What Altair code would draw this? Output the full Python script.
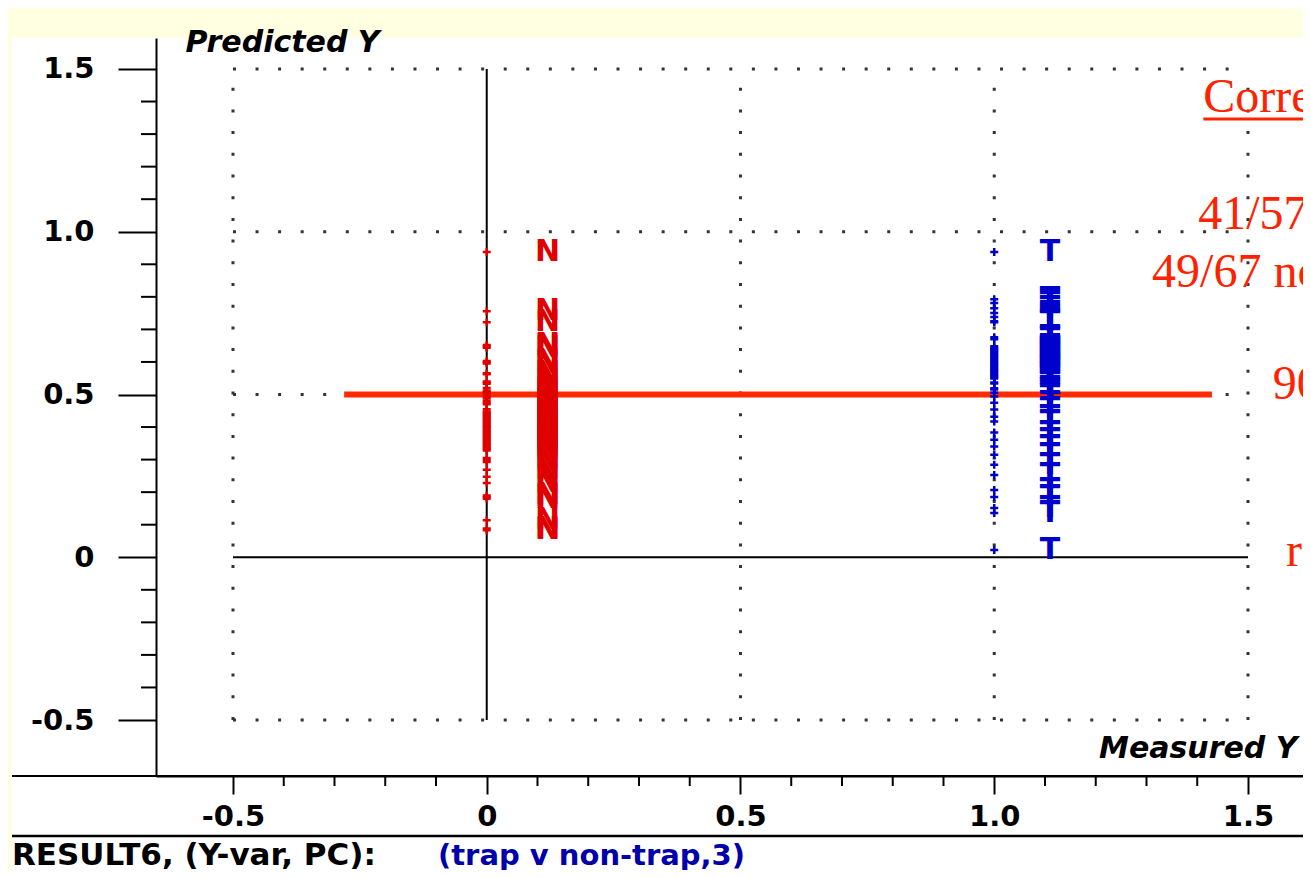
import altair as alt
import pandas as pd

# ---------------- data ----------------
class_names = ["non-trap", "trap"]
measured_values = [0.0, 1.0]
letter_x = [0.12, 1.11]
letters = ["N", "T"]
class_colors = ["#E00000", "#0000CC"]

nontrap_pred = [
    0.938, 0.756, 0.722, 0.652, 0.648, 0.644, 0.603, 0.599, 0.595, 0.565,
    0.562, 0.540, 0.537, 0.533, 0.520, 0.512, 0.508, 0.503,
    0.494, 0.488, 0.480, 0.475, 0.470, 0.455, 0.448, 0.444, 0.440, 0.436,
    0.432, 0.428, 0.424, 0.420, 0.416, 0.412, 0.408, 0.404, 0.400, 0.396,
    0.392, 0.388, 0.384, 0.380, 0.376, 0.372, 0.368, 0.364, 0.360, 0.356,
    0.352, 0.348, 0.344, 0.340, 0.336, 0.332, 0.328, 0.305, 0.299, 0.293,
    0.269, 0.247, 0.228, 0.190, 0.185, 0.180, 0.114, 0.088, 0.083,
]
trap_pred = [
    0.938, 0.793, 0.781, 0.765, 0.750, 0.738, 0.725, 0.722, 0.676, 0.670,
    0.648, 0.644, 0.640, 0.636, 0.632, 0.628, 0.624, 0.620, 0.616, 0.612,
    0.608, 0.604, 0.600, 0.596, 0.592, 0.588, 0.584, 0.580, 0.576, 0.572,
    0.568, 0.564, 0.560, 0.556, 0.552, 0.549, 0.537, 0.534, 0.519, 0.515,
    0.505,
    0.494, 0.475, 0.454, 0.432, 0.417, 0.383, 0.361, 0.340, 0.315, 0.284,
    0.253, 0.207, 0.185, 0.151, 0.136, 0.022,
]

threshold = 0.5
threshold_x = [-0.281, 1.429]

major_ticks = [-0.5, 0.0, 0.5, 1.0, 1.5]
minor_ticks = [-0.4, -0.3, -0.2, -0.1, 0.1, 0.2, 0.3, 0.4,
               0.6, 0.7, 0.8, 0.9, 1.1, 1.2, 1.3, 1.4]
grid_lines = [-0.5, 0.5, 1.0, 1.5]
data_range = [-0.5, 1.5]

ann_text = ["Corre", "41/57", "49/67 no", "90", "ra"]
ann_x = [1.412, 1.402, 1.311, 1.549, 1.575]
ann_y = [1.368, 1.008, 0.830, 0.487, -0.027]
underline_y = 1.346
underline_x = [1.412, 1.75]

footer_words = ["RESULT6, (Y-var, PC):", "(trap v non-trap,3)"]
footer_colors = ["black", "#0000AA"]
footer_px = [-144, 282]
footer_sizes = [31, 29]

# ---------------- tables ----------------
rows = []
for i, preds in enumerate([nontrap_pred, trap_pred]):
    for p in preds:
        rows.append({"cls": class_names[i], "measured": measured_values[i],
                     "lx": letter_x[i], "letter": letters[i], "pred": p})
pts = pd.DataFrame(rows)

W, H = 1147, 738
XS = alt.Scale(domain=[-0.6517, 1.6084], nice=False, zero=False)
YS = alt.Scale(domain=[-0.6720, 1.5952], nice=False, zero=False)
CS = alt.Scale(domain=class_names, range=class_colors)

label_expr = ("(datum.value < 0 ? '-' : '') + (datum.value == 0 ? '0' : "
              "format(abs(datum.value), '.1f'))")
FONT = "DejaVu Sans"

xaxis = alt.Axis(values=major_ticks, tickSize=18, tickWidth=2, tickColor="black",
                 domainColor="black", domainWidth=2, grid=False,
                 labelFont=FONT, labelFontWeight="bold", labelFontSize=29,
                 labelColor="black", labelPadding=8, labelExpr=label_expr,
                 title="Measured Y", titleX=1141, titleY=-28, titleAlign="right",
                 titleBaseline="middle", titleFont=FONT, titleFontSize=30,
                 titleFontWeight="bold", titleFontStyle="italic",
                 titleColor="black", zindex=1)
yaxis = alt.Axis(values=major_ticks, tickSize=38, tickWidth=2, tickColor="black",
                 domainColor="black", domainWidth=2, grid=False,
                 labelFont=FONT, labelFontWeight="bold", labelFontSize=29,
                 labelColor="black", labelPadding=24, labelExpr=label_expr,
                 title="Predicted Y", titleX=29, titleY=4, titleAngle=0,
                 titleAlign="left", titleBaseline="middle", titleFont=FONT,
                 titleFontSize=30, titleFontWeight="bold", titleFontStyle="italic",
                 titleColor="black", zindex=1)


def X(field):
    return alt.X(field, scale=XS, axis=xaxis)


def Y(field):
    return alt.Y(field, scale=YS, axis=yaxis)


one = pd.DataFrame({"a": [0]})

# white panel
panel = alt.Chart(one).mark_rect(color="white").encode(
    x=alt.value(-144), x2=alt.value(1160), y=alt.value(0), y2=alt.value(840))

# dotted grid
gh = pd.DataFrame({"y": grid_lines, "x": data_range[0], "x2": data_range[1]})
gv = pd.DataFrame({"x": grid_lines, "y": data_range[0], "y2": data_range[1]})
grid_h = alt.Chart(gh).mark_rule(color="#333333", strokeWidth=3,
                                 strokeDash=[3, 19.56], strokeCap="butt").encode(
    x=X("x:Q"), x2="x2:Q", y=Y("y:Q"))
grid_v = alt.Chart(gv).mark_rule(color="#333333", strokeWidth=3,
                                 strokeDash=[3, 18.7], strokeCap="butt").encode(
    x=X("x:Q"), y=Y("y:Q"), y2="y2:Q")

# zero lines
zv = pd.DataFrame({"x": [0.0], "y": [data_range[0]], "y2": [data_range[1]]})
zh = pd.DataFrame({"y": [0.0], "x": [data_range[0]], "x2": [data_range[1]]})
zero_v = alt.Chart(zv).mark_rule(color="black", strokeWidth=2).encode(
    x=X("x:Q"), y=Y("y:Q"), y2="y2:Q")
zero_h = alt.Chart(zh).mark_rule(color="black", strokeWidth=2).encode(
    x=X("x:Q"), x2="x2:Q", y=Y("y:Q"))

# full-width axis line and bottom border
axis_line = alt.Chart(one).mark_rule(color="black", strokeWidth=2).encode(
    x=alt.value(-144), x2=alt.value(1160), y=alt.value(H))
border_line = alt.Chart(one).mark_rule(color="black", strokeWidth=2.5).encode(
    x=alt.value(-144), x2=alt.value(1160), y=alt.value(H + 60))

# minor ticks
mx = pd.DataFrame({"x": minor_ticks})
my = pd.DataFrame({"y": minor_ticks})
minor_x = alt.Chart(mx).mark_rule(color="black", strokeWidth=2).encode(
    x=X("x:Q"), y=alt.value(H), y2=alt.value(H + 10))
minor_y = alt.Chart(my).mark_rule(color="black", strokeWidth=2).encode(
    y=Y("y:Q"), x=alt.value(-15), x2=alt.value(0))

# threshold line
th = pd.DataFrame({"x": [threshold_x[0]], "x2": [threshold_x[1]], "y": [threshold]})
thr = alt.Chart(th).mark_rule(color="#FF2A00", strokeWidth=6, strokeCap="butt").encode(
    x=X("x:Q"), x2="x2:Q", y=Y("y:Q"))

# data points
plus = alt.Chart(pts).mark_point(shape="M-1,0H1M0,-1V1", filled=False,
                                 strokeWidth=2.5, size=64, opacity=1).encode(
    x=X("measured:Q"), y=Y("pred:Q"),
    color=alt.Color("cls:N", scale=CS, legend=None))
lett = alt.Chart(pts).mark_text(font=FONT, fontWeight="bold", fontSize=30,
                                baseline="middle", align="center").encode(
    x=X("lx:Q"), y=Y("pred:Q"), text="letter:N",
    color=alt.Color("cls:N", scale=CS, legend=None))

# red annotations
ann = pd.DataFrame({"t": ann_text, "x": ann_x, "y": ann_y})
ann_layer = alt.Chart(ann).mark_text(font="Liberation Serif", fontSize=48,
                                     color="#FF2200", align="left",
                                     baseline="alphabetic").encode(
    x=X("x:Q"), y=Y("y:Q"), text="t:N")
ul = pd.DataFrame({"x": [underline_x[0]], "x2": [underline_x[1]], "y": [underline_y]})
ul_layer = alt.Chart(ul).mark_rule(color="#FF2200", strokeWidth=3).encode(
    x=X("x:Q"), x2="x2:Q", y=Y("y:Q"))

# footer
footer_layers = []
for word, col, px, fs in zip(footer_words, footer_colors, footer_px, footer_sizes):
    footer_layers.append(
        alt.Chart(one).mark_text(font=FONT, fontWeight="bold", fontSize=fs,
                                 color=col, align="left", baseline="middle",
                                 text=word).encode(
            x=alt.value(px), y=alt.value(H + 80)))

chart = alt.layer(
    panel, grid_h, grid_v, zero_v, zero_h, axis_line, border_line,
    minor_x, minor_y, thr, plus, lett, ann_layer, ul_layer, *footer_layers,
).properties(
    width=W, height=H,
    padding={"left": 148, "top": 30, "right": 0, "bottom": 94},
    autosize=alt.AutoSizeParams(type="none"),
    background="#FFFFE2",
).configure_view(stroke=None)

chart.save("out.html", embed_options={"renderer": "svg", "actions": False})
